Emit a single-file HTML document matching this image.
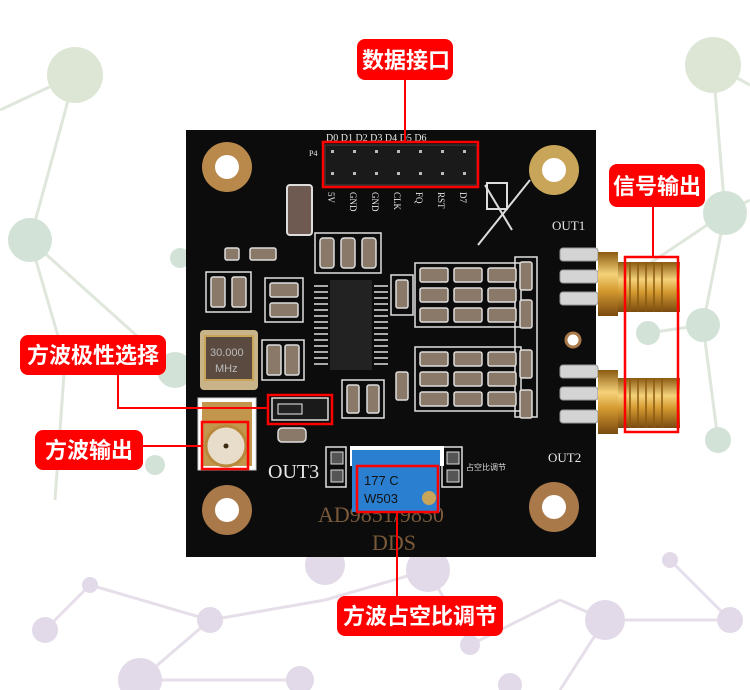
<!DOCTYPE html>
<html><head><meta charset="utf-8"><style>
html,body{margin:0;padding:0;background:#fff;width:750px;height:690px;overflow:hidden}
svg{display:block}
.lb{font-family:"Liberation Sans","Noto Sans CJK SC",sans-serif;font-size:22px;fill:#fff;font-weight:bold}
.sk{font-family:"Liberation Serif",serif;fill:#e8e8e8}
</style></head><body>
<svg width="750" height="690" viewBox="0 0 750 690">
<g stroke="#dfe7dc" stroke-width="3" fill="none">
<polyline points="0,110 75,75 30,240 175,370"/><line x1="30" y1="240" x2="65" y2="360"/><line x1="65" y1="360" x2="55" y2="500"/>
<polyline points="713,65 750,85"/><polyline points="713,65 725,213 703,325 718,440"/><line x1="725" y1="213" x2="750" y2="200"/><line x1="703" y1="325" x2="648" y2="333"/><line x1="725" y1="213" x2="640" y2="270"/>
</g>
<g fill="#dde6d4"><circle cx="75" cy="75" r="28"/><circle cx="713" cy="65" r="28"/></g>
<g fill="#d3e2d6"><circle cx="30" cy="240" r="22"/><circle cx="65" cy="360" r="15"/><circle cx="175" cy="370" r="18"/><circle cx="725" cy="213" r="22"/><circle cx="703" cy="325" r="17"/><circle cx="648" cy="333" r="12"/><circle cx="718" cy="440" r="13"/><circle cx="180" cy="258" r="10"/><circle cx="155" cy="465" r="10"/></g>
<g stroke="#e6dfea" stroke-width="3" fill="none">
<polyline points="45,630 90,585 210,620 140,680 300,680"/><polyline points="210,620 325,600 428,570 470,645"/><polyline points="560,600 605,620 730,620 670,560"/><polyline points="605,620 560,690"/><polyline points="470,645 560,600"/>
</g>
<g fill="#e2dae8"><circle cx="90" cy="585" r="8"/><circle cx="45" cy="630" r="13"/><circle cx="140" cy="680" r="22"/><circle cx="210" cy="620" r="13"/><circle cx="300" cy="680" r="14"/><circle cx="325" cy="565" r="20"/><circle cx="428" cy="570" r="22"/><circle cx="470" cy="645" r="10"/><circle cx="605" cy="620" r="20"/><circle cx="730" cy="620" r="13"/><circle cx="670" cy="560" r="8"/><circle cx="510" cy="685" r="12"/></g>

<rect x="186" y="130" width="410" height="427" fill="#0c0c0c"/>
<g>
<circle cx="227" cy="167" r="25" fill="#b8894a"/><circle cx="227" cy="167" r="12" fill="#fff"/>
<circle cx="554" cy="170" r="25" fill="#c9a55a"/><circle cx="554" cy="170" r="12" fill="#fff"/>
<circle cx="227" cy="510" r="25" fill="#a9794a"/><circle cx="227" cy="510" r="12" fill="#fff"/>
<circle cx="554" cy="507" r="25" fill="#a9794a"/><circle cx="554" cy="507" r="12" fill="#fff"/>
<circle cx="573" cy="340" r="7" fill="#fff" stroke="#a9794a" stroke-width="3"/>
</g>
<!-- silkscreen outlines -->
<g fill="none" stroke="#e0e0e0" stroke-width="1.5">
<rect x="415" y="263" width="106" height="64"/><rect x="415" y="347" width="106" height="64"/>
<rect x="206" y="272" width="45" height="40"/><rect x="265" y="278" width="38" height="44"/>
<rect x="262" y="340" width="42" height="40"/><rect x="315" y="233" width="66" height="40"/>
<rect x="515" y="257" width="22" height="160"/><rect x="391" y="275" width="22" height="40"/>
<rect x="342" y="380" width="42" height="38"/><rect x="326" y="447" width="20" height="40"/><rect x="442" y="447" width="20" height="40"/>
</g>
<rect x="325" y="145" width="152" height="40" fill="#1a1a1a" stroke="#444"/>
<g fill="#bbb"><rect x="331" y="150" width="3" height="3"/><rect x="353" y="150" width="3" height="3"/><rect x="375" y="150" width="3" height="3"/><rect x="397" y="150" width="3" height="3"/><rect x="419" y="150" width="3" height="3"/><rect x="441" y="150" width="3" height="3"/><rect x="463" y="150" width="3" height="3"/>
<rect x="331" y="172" width="3" height="3"/><rect x="353" y="172" width="3" height="3"/><rect x="375" y="172" width="3" height="3"/><rect x="397" y="172" width="3" height="3"/><rect x="419" y="172" width="3" height="3"/><rect x="441" y="172" width="3" height="3"/><rect x="463" y="172" width="3" height="3"/></g>
<text x="326" y="141" class="sk" font-size="10">D0 D1 D2 D3 D4 D5 D6</text>
<text x="309" y="156" class="sk" font-size="8">P4</text>
<g class="sk" font-size="9"><text transform="translate(328,192) rotate(90)">5V</text><text transform="translate(350,192) rotate(90)">GND</text><text transform="translate(372,192) rotate(90)">GND</text><text transform="translate(394,192) rotate(90)">CLK</text><text transform="translate(416,192) rotate(90)">FQ</text><text transform="translate(438,192) rotate(90)">RST</text><text transform="translate(460,192) rotate(90)">D7</text></g>
<rect x="287" y="185" width="25" height="50" rx="3" fill="#6e5a50" stroke="#ddd" stroke-width="2"/>
<g stroke="#ddd" stroke-width="2" fill="none"><rect x="487" y="183" width="20" height="26"/><line x1="478" y1="245" x2="530" y2="180"/><line x1="485" y1="185" x2="512" y2="230"/></g>
<text x="552" y="230" class="sk" font-size="13">OUT1</text>
<text x="548" y="462" class="sk" font-size="13">OUT2</text>
<text x="268" y="478" class="sk" font-size="20">OUT3</text>
<text x="466" y="470" font-family="Noto Sans CJK SC,sans-serif" font-size="8" fill="#ddd">占空比调节</text>
<text x="318" y="522" font-family="Liberation Serif,serif" font-size="22" fill="#7a5a3a">AD9851/9850</text>
<text x="372" y="550" font-family="Liberation Serif,serif" font-size="22" fill="#7a5a3a">DDS</text>
<rect x="330" y="280" width="42" height="90" fill="#222"/>
<g fill="#aaa"><rect x="314" y="285" width="14" height="2"/><rect x="314" y="291" width="14" height="2"/><rect x="314" y="297" width="14" height="2"/><rect x="314" y="303" width="14" height="2"/><rect x="314" y="309" width="14" height="2"/><rect x="314" y="315" width="14" height="2"/><rect x="314" y="321" width="14" height="2"/><rect x="314" y="327" width="14" height="2"/><rect x="314" y="333" width="14" height="2"/><rect x="314" y="339" width="14" height="2"/><rect x="314" y="345" width="14" height="2"/><rect x="314" y="351" width="14" height="2"/><rect x="314" y="357" width="14" height="2"/><rect x="314" y="363" width="14" height="2"/>
<rect x="374" y="285" width="14" height="2"/><rect x="374" y="291" width="14" height="2"/><rect x="374" y="297" width="14" height="2"/><rect x="374" y="303" width="14" height="2"/><rect x="374" y="309" width="14" height="2"/><rect x="374" y="315" width="14" height="2"/><rect x="374" y="321" width="14" height="2"/><rect x="374" y="327" width="14" height="2"/><rect x="374" y="333" width="14" height="2"/><rect x="374" y="339" width="14" height="2"/><rect x="374" y="345" width="14" height="2"/><rect x="374" y="351" width="14" height="2"/><rect x="374" y="357" width="14" height="2"/><rect x="374" y="363" width="14" height="2"/></g>
<g fill="#8a7868" stroke="#ddd" stroke-width="1.5">
<rect x="320" y="238" width="14" height="30" rx="3"/><rect x="341" y="238" width="14" height="30" rx="3"/><rect x="362" y="238" width="14" height="30" rx="3"/>
<rect x="420" y="268" width="28" height="14" rx="2"/><rect x="454" y="268" width="28" height="14" rx="2"/><rect x="488" y="268" width="28" height="14" rx="2"/>
<rect x="420" y="288" width="28" height="14" rx="2"/><rect x="454" y="288" width="28" height="14" rx="2"/><rect x="488" y="288" width="28" height="14" rx="2"/>
<rect x="420" y="308" width="28" height="14" rx="2"/><rect x="454" y="308" width="28" height="14" rx="2"/><rect x="488" y="308" width="28" height="14" rx="2"/>
<rect x="420" y="352" width="28" height="14" rx="2"/><rect x="454" y="352" width="28" height="14" rx="2"/><rect x="488" y="352" width="28" height="14" rx="2"/>
<rect x="420" y="372" width="28" height="14" rx="2"/><rect x="454" y="372" width="28" height="14" rx="2"/><rect x="488" y="372" width="28" height="14" rx="2"/>
<rect x="420" y="392" width="28" height="14" rx="2"/><rect x="454" y="392" width="28" height="14" rx="2"/><rect x="488" y="392" width="28" height="14" rx="2"/>
<rect x="520" y="262" width="12" height="28" rx="2"/><rect x="520" y="300" width="12" height="28" rx="2"/><rect x="520" y="350" width="12" height="28" rx="2"/><rect x="520" y="390" width="12" height="28" rx="2"/>
<rect x="396" y="280" width="12" height="28" rx="2"/><rect x="396" y="372" width="12" height="28" rx="2"/><rect x="347" y="385" width="12" height="28" rx="2"/><rect x="367" y="385" width="12" height="28" rx="2"/>
<rect x="211" y="277" width="14" height="30" rx="2"/><rect x="232" y="277" width="14" height="30" rx="2"/>
<rect x="270" y="283" width="28" height="14" rx="2"/><rect x="270" y="303" width="28" height="14" rx="2"/>
<rect x="267" y="345" width="14" height="30" rx="2"/><rect x="285" y="345" width="14" height="30" rx="2"/>
<rect x="250" y="248" width="26" height="12" rx="2"/><rect x="225" y="248" width="14" height="12" rx="2"/>
<rect x="278" y="428" width="28" height="14" rx="4"/>
</g>
<rect x="200" y="330" width="58" height="60" rx="4" fill="#c9b48a"/>
<rect x="205" y="336" width="48" height="44" fill="#5a4a40" stroke="#c9a55a" stroke-width="2"/>
<text x="210" y="356" font-family="Liberation Sans,sans-serif" font-size="11" fill="#bbb">30.000</text>
<text x="215" y="372" font-family="Liberation Sans,sans-serif" font-size="11" fill="#bbb">MHz</text>
<rect x="198" y="398" width="58" height="72" fill="#fff" stroke="#ccc"/>
<rect x="202" y="402" width="50" height="64" fill="#c2974d"/>
<circle cx="226" cy="446" r="20" fill="#e8dccb" stroke="#b8893c" stroke-width="3"/>
<circle cx="226" cy="446" r="2.5" fill="#3a2a10"/>
<rect x="272" y="398" width="56" height="22" fill="#1a1a1a" stroke="#ddd" stroke-width="1.5"/>
<rect x="278" y="404" width="24" height="10" fill="#222" stroke="#eee"/>
<rect x="350" y="446" width="94" height="20" fill="#fff"/>
<rect x="352" y="450" width="88" height="62" fill="#2a7fd0"/>
<text x="364" y="485" font-family="Liberation Sans,sans-serif" font-size="13" fill="#111">177 C</text>
<text x="364" y="503" font-family="Liberation Sans,sans-serif" font-size="13" fill="#111">W503</text>
<circle cx="429" cy="498" r="7" fill="#c9a55a"/>
<g fill="#555" stroke="#ddd"><rect x="331" y="452" width="12" height="12"/><rect x="331" y="470" width="12" height="12"/><rect x="447" y="452" width="12" height="12"/><rect x="447" y="470" width="12" height="12"/></g>
<g fill="#d4d4d4" stroke="#999"><rect x="560" y="248" width="38" height="13" rx="3"/><rect x="560" y="270" width="38" height="13" rx="3"/><rect x="560" y="292" width="38" height="13" rx="3"/><rect x="560" y="365" width="38" height="13" rx="3"/><rect x="560" y="387" width="38" height="13" rx="3"/><rect x="560" y="410" width="38" height="13" rx="3"/></g>
<defs><linearGradient id="g" x1="0" y1="0" x2="0" y2="1"><stop offset="0" stop-color="#8a5a10"/><stop offset=".35" stop-color="#f5d27a"/><stop offset=".6" stop-color="#d49a30"/><stop offset="1" stop-color="#7a4a10"/></linearGradient></defs>
<rect x="598" y="252" width="20" height="64" fill="url(#g)"/><rect x="618" y="262" width="62" height="50" fill="url(#g)"/>
<rect x="598" y="370" width="20" height="64" fill="url(#g)"/><rect x="618" y="378" width="62" height="50" fill="url(#g)"/>
<g stroke="#8a5a10" stroke-width="1.5"><line x1="630" y1="262" x2="630" y2="312"/><line x1="638" y1="262" x2="638" y2="312"/><line x1="646" y1="262" x2="646" y2="312"/><line x1="654" y1="262" x2="654" y2="312"/><line x1="662" y1="262" x2="662" y2="312"/><line x1="630" y1="378" x2="630" y2="428"/><line x1="638" y1="378" x2="638" y2="428"/><line x1="646" y1="378" x2="646" y2="428"/><line x1="654" y1="378" x2="654" y2="428"/><line x1="662" y1="378" x2="662" y2="428"/></g>

<g fill="none" stroke="#f00" stroke-width="2.5">
<rect x="323" y="142" width="155" height="45"/>
<rect x="625" y="257" width="53" height="175"/>
<rect x="268" y="395" width="64" height="29"/>
<rect x="202" y="422" width="46" height="47"/>
<rect x="357" y="466" width="81" height="46"/>
</g>
<g stroke="#f00" stroke-width="2" fill="none">
<line x1="405" y1="80" x2="405" y2="142"/>
<line x1="653" y1="207" x2="653" y2="257"/>
<polyline points="118,375 118,408 268,408"/>
<line x1="143" y1="446" x2="202" y2="446"/>
<line x1="397" y1="512" x2="397" y2="596"/>
</g>
<g fill="#f00">
<rect x="357" y="39" width="96" height="41" rx="8"/>
<rect x="609" y="164" width="96" height="43" rx="8"/>
<rect x="20" y="335" width="146" height="40" rx="8"/>
<rect x="35" y="430" width="108" height="40" rx="8"/>
<rect x="337" y="596" width="166" height="40" rx="8"/>
</g>
<text x="362" y="68" class="lb">数据接口</text>
<text x="613" y="194" class="lb">信号输出</text>
<text x="27" y="363" class="lb">方波极性选择</text>
<text x="45" y="458" class="lb">方波输出</text>
<text x="343" y="624" class="lb">方波占空比调节</text>
</svg>
</body></html>
